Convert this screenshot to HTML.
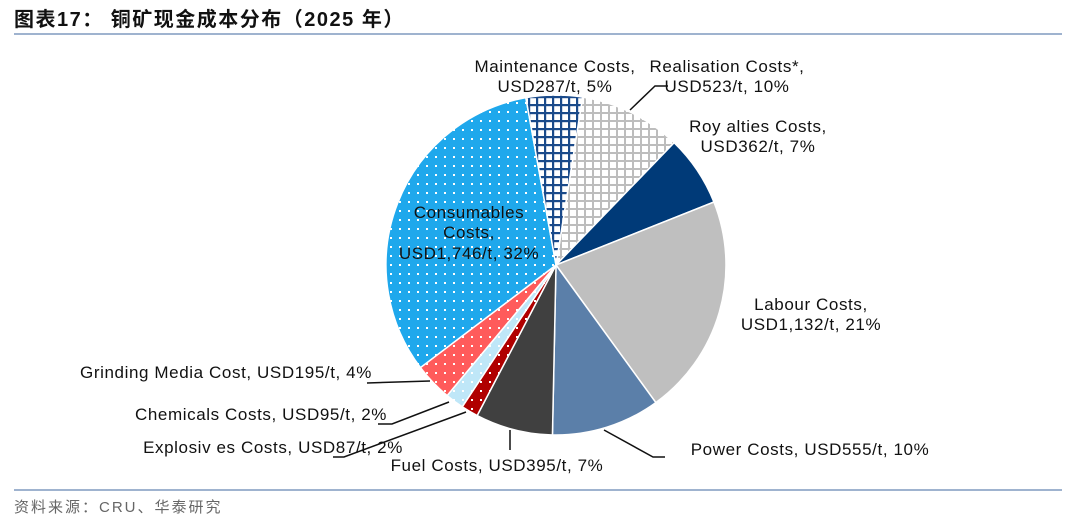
<!DOCTYPE html>
<html><head><meta charset="utf-8"><style>
body{margin:0;width:1080px;height:525px;background:#fff;overflow:hidden;font-family:"Liberation Sans","Noto Sans CJK SC",sans-serif}
svg text{font-family:"Liberation Sans","Noto Sans CJK SC",sans-serif;font-size:17px;letter-spacing:0.6px;fill:#111}
</style></head><body>
<svg width="1080" height="525" xmlns="http://www.w3.org/2000/svg">
<defs>
<pattern id="pCons" width="9" height="9" patternUnits="userSpaceOnUse"><rect width="9" height="9" fill="#1fa8ec"/><rect x="3" y="3" width="2" height="2" fill="#fff"/></pattern>
<pattern id="pGrind" width="9" height="9" patternUnits="userSpaceOnUse"><rect width="9" height="9" fill="#ff5b5b"/><rect x="3" y="3" width="2" height="2" fill="#fff"/></pattern>
<pattern id="pChem" width="9" height="9" patternUnits="userSpaceOnUse"><rect width="9" height="9" fill="#bfe7f8"/><rect x="3" y="3" width="2" height="2" fill="#fff"/></pattern>
<pattern id="pExpl" width="9" height="9" patternUnits="userSpaceOnUse"><rect width="9" height="9" fill="#b00000"/><rect x="3" y="3" width="2" height="2" fill="#fff"/></pattern>
<pattern id="pMaint" width="8" height="8" patternUnits="userSpaceOnUse"><rect width="8" height="8" fill="#fff"/><rect width="8" height="2.2" fill="#1a4a8a"/><rect width="2.2" height="8" fill="#1a4a8a"/></pattern>
<pattern id="pReal" width="8" height="8" patternUnits="userSpaceOnUse"><rect width="8" height="8" fill="#fff"/><rect width="8" height="2" fill="#bdbdbd"/><rect width="2" height="8" fill="#bdbdbd"/></pattern>
</defs>
<text x="14" y="26" style="font-size:20px;font-weight:bold;letter-spacing:1.5px">图表17：  铜矿现金成本分布（2025 年）</text>
<rect x="14" y="33" width="1048" height="2" fill="#9fb3cf"/>
<rect x="14" y="489" width="1048" height="2" fill="#9fb3cf"/>
<text x="14" y="512" style="font-size:15px;fill:#666;letter-spacing:2px">资料来源：CRU、华泰研究</text>
<g id="pie" stroke="#fff" stroke-width="1.5"></g>
<g stroke="#111" stroke-width="1.5" fill="none">
<polyline points="630,110 655,86 668,86"/>
<polyline points="604,430 653,457 665,457"/>
<polyline points="510,430 510,450"/>
<polyline points="367,383 430,381"/>
<polyline points="378,424 392,424 449,402"/>
<polyline points="333,457 344,457 466,412"/>
</g>
<text x="555" y="72" text-anchor="middle">Maintenance Costs,</text>
<text x="555" y="92" text-anchor="middle">USD287/t, 5%</text>
<text x="727" y="72" text-anchor="middle">Realisation Costs*,</text>
<text x="727" y="92" text-anchor="middle">USD523/t, 10%</text>
<text x="758" y="132" text-anchor="middle">Roy alties Costs,</text>
<text x="758" y="152" text-anchor="middle">USD362/t, 7%</text>
<text x="811" y="310" text-anchor="middle">Labour Costs,</text>
<text x="811" y="330" text-anchor="middle">USD1,132/t, 21%</text>
<text x="810" y="455" text-anchor="middle">Power Costs, USD555/t, 10%</text>
<text x="497" y="471" text-anchor="middle">Fuel Costs, USD395/t, 7%</text>
<text x="273" y="453" text-anchor="middle">Explosiv es Costs, USD87/t, 2%</text>
<text x="261" y="420" text-anchor="middle">Chemicals Costs, USD95/t, 2%</text>
<text x="226" y="378" text-anchor="middle">Grinding Media Cost, USD195/t, 4%</text>
<text x="469" y="218" text-anchor="middle">Consumables</text>
<text x="469" y="238" text-anchor="middle">Costs,</text>
<text x="469" y="259" text-anchor="middle">USD1,746/t, 32%</text>
</svg>
<script>
var cx=556,cy=265,r=170;
var d=[[523,"url(#pReal)"],[362,"#003a78"],[1132,"#bfbfbf"],[555,"#5b7fa9"],[395,"#404040"],[87,"url(#pExpl)"],[95,"url(#pChem)"],[195,"url(#pGrind)"],[1746,"url(#pCons)"],[287,"url(#pMaint)"]];
var tot=0;d.forEach(function(x){tot+=x[0]});
var a=9*Math.PI/180,g=document.getElementById('pie'),s='';
d.forEach(function(x){var b=a+x[0]/tot*2*Math.PI;
var x1=cx+r*Math.sin(a),y1=cy-r*Math.cos(a),x2=cx+r*Math.sin(b),y2=cy-r*Math.cos(b);
s+='<path d="M'+cx+','+cy+'L'+x1+','+y1+'A'+r+','+r+' 0 '+((b-a)>Math.PI?1:0)+' 1 '+x2+','+y2+'Z" fill="'+x[1]+'"/>';a=b;});
g.innerHTML=s;
</script>
</body></html>
